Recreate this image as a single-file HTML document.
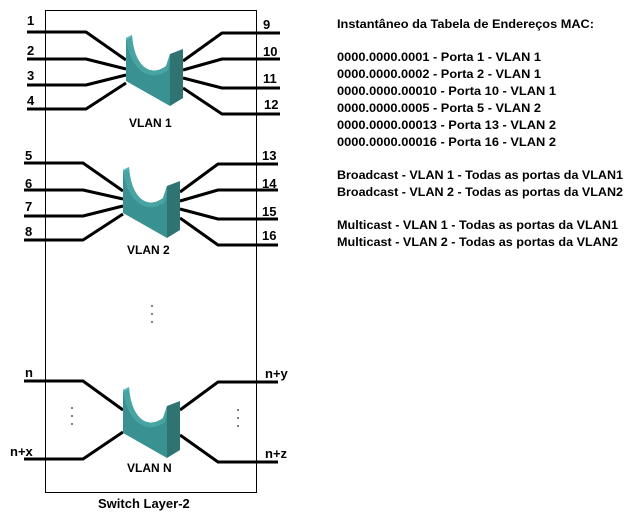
<!DOCTYPE html>
<html><head><meta charset="utf-8"><style>
html,body{margin:0;padding:0;background:#fff;}
svg{display:block;}
text{font-family:"Liberation Sans",sans-serif;font-weight:bold;fill:#000;}
</style></head><body>
<svg width="635" height="527" viewBox="0 0 635 527" xmlns="http://www.w3.org/2000/svg">
<defs>
<g id="blk">
  <path d="M50,26 L63,21 L63,70 L50,78 Z" fill="#2f7373"/>
  <path d="M6,10 L12,7 C14,38 30,50 46,38 L50,26 L50,78 L6,53 Z" fill="#3a9191"/>
  <path d="M12,7 C14,38 30,50 46,38 L50,26 L50,32 L48,42 C32,54 12,46 6,12 Z" fill="#48a3a3"/>
  <path d="M6,10 L12,7 L12,9 L6,12 Z" fill="#5ab8b8"/>
</g>
</defs>
<rect x="45.5" y="10.5" width="211" height="482" fill="none" stroke="#000" stroke-width="1"/>
<g stroke="#000" stroke-width="3" fill="none" stroke-linejoin="round">
  <polyline points="27,32 86,32 126,60"/>
  <polyline points="27,59 86,59 126,69"/>
  <polyline points="27,85 86,85 126,75"/>
  <polyline points="27,109 86,109 126,83"/>
  <polyline points="280,33 222,33 183,61"/>
  <polyline points="280,59 222,59 183,70"/>
  <polyline points="280,88 222,88 183,78"/>
  <polyline points="280,114 222,114 183,88"/>
  <polyline points="24,163 83,163 123,191"/>
  <polyline points="24,190 83,190 123,199"/>
  <polyline points="24,216 83,216 123,206"/>
  <polyline points="24,240 83,240 123,214"/>
  <polyline points="278,164 218,164 180,192"/>
  <polyline points="278,190 218,190 180,201"/>
  <polyline points="278,219 218,219 180,209"/>
  <polyline points="278,245 218,245 180,218"/>
  <polyline points="24,381 83,381 123,410"/>
  <polyline points="24,459 83,459 123,432"/>
  <polyline points="278,382 218,382 180,410"/>
  <polyline points="278,462 218,462 180,435"/>
</g>
<use href="#blk" transform="translate(120,28)"/>
<use href="#blk" transform="translate(117,160)"/>
<use href="#blk" transform="translate(117,380)"/>
<g font-size="13">
  <text x="27" y="25">1</text><text x="27" y="55">2</text><text x="27" y="80">3</text><text x="27" y="105">4</text>
  <text x="263" y="29">9</text><text x="263" y="56">10</text><text x="263" y="83">11</text><text x="264" y="109">12</text>
  <text x="25" y="160">5</text><text x="25" y="188">6</text><text x="25" y="211">7</text><text x="25" y="236">8</text>
  <text x="262" y="160">13</text><text x="262" y="188">14</text><text x="262" y="216">15</text><text x="262" y="240">16</text>
  <text x="25" y="377">n</text><text x="10" y="456">n+x</text>
  <text x="265" y="378">n+y</text><text x="265" y="458">n+z</text>
</g>
<g font-size="12" fill="#222">
  <text x="129" y="127">VLAN 1</text>
  <text x="127" y="254">VLAN 2</text>
  <text x="127" y="472">VLAN N</text>
</g>
<text x="98" y="508" font-size="13">Switch Layer-2</text>
<g fill="#555">
  <circle cx="152" cy="306" r="1"/><circle cx="152" cy="314" r="1"/><circle cx="152" cy="322" r="1"/>
  <circle cx="72" cy="408" r="1"/><circle cx="72" cy="416" r="1"/><circle cx="72" cy="424" r="1"/>
  <circle cx="238" cy="410" r="1"/><circle cx="238" cy="418" r="1"/><circle cx="238" cy="426" r="1"/>
</g>
<g font-size="12">
  <text x="337" y="28" textLength="257" lengthAdjust="spacingAndGlyphs">Instantâneo da Tabela de Endereços MAC:</text>
  <text x="337" y="61" textLength="204" lengthAdjust="spacingAndGlyphs">0000.0000.0001 - Porta 1 - VLAN 1</text>
  <text x="337" y="78" textLength="204" lengthAdjust="spacingAndGlyphs">0000.0000.0002 - Porta 2 - VLAN 1</text>
  <text x="337" y="95" textLength="219" lengthAdjust="spacingAndGlyphs">0000.0000.00010 - Porta 10 - VLAN 1</text>
  <text x="337" y="112" textLength="204" lengthAdjust="spacingAndGlyphs">0000.0000.0005 - Porta 5 - VLAN 2</text>
  <text x="337" y="129" textLength="219" lengthAdjust="spacingAndGlyphs">0000.0000.00013 - Porta 13 - VLAN 2</text>
  <text x="337" y="146" textLength="219" lengthAdjust="spacingAndGlyphs">0000.0000.00016 - Porta 16 - VLAN 2</text>
  <text x="337" y="179" textLength="286" lengthAdjust="spacingAndGlyphs">Broadcast - VLAN 1 - Todas as portas da VLAN1</text>
  <text x="337" y="196" textLength="286" lengthAdjust="spacingAndGlyphs">Broadcast - VLAN 2 - Todas as portas da VLAN2</text>
  <text x="337" y="229" textLength="281" lengthAdjust="spacingAndGlyphs">Multicast - VLAN 1 - Todas as portas da VLAN1</text>
  <text x="337" y="246" textLength="281" lengthAdjust="spacingAndGlyphs">Multicast - VLAN 2 - Todas as portas da VLAN2</text>
</g>
</svg>
</body></html>
